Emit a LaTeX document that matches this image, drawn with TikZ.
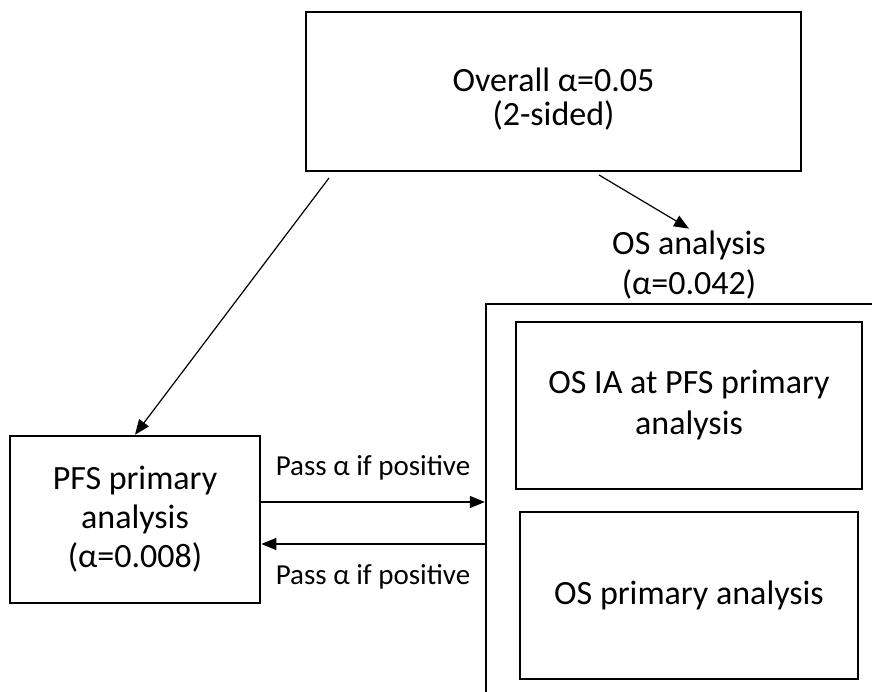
\documentclass[tikz,border=0pt]{standalone}
\usepackage{fontspec}
\setmainfont{Carlito}
\usetikzlibrary{arrows.meta}
\usetikzlibrary{calc}

\begin{document}
\begin{tikzpicture}[x=1pt, y=1pt]
        % ================= 样式定义 =================
        \tikzset{
            % 方框:白底黑粗边
            box/.style={draw=black, line width=2.6pt, fill=white, align=center, inner sep=0pt, font=\fontsize{34}{39}\selectfont},
            % 外框 (超出画面)
            bigbox/.style={draw=black, line width=2.4pt, inner sep=0pt},
            % 文字标签
            textlab/.style={align=center, inner sep=2pt, font=\fontsize{34}{40}\selectfont},
            % 箭头上的小字
            passlab/.style={inner sep=0pt, font=\fontsize{29}{34}\selectfont},
            % 箭头样式
            arr/.style={line width=1.2pt, black, -{Triangle[length=15pt, width=12pt]}}
        }
        \useasboundingbox (0,0) rectangle (872,692);

        % ================= 1. 绘制方框 =================

        % 顶部:总体 alpha (文字稍微偏下)
        \node[box, minimum width=495, minimum height=159] (overall) at (553.5,600.5) {};
        \node[textlab, font=\fontsize{34}{34}\selectfont] (overalltxt) at ([yshift=-8]overall.center) {Overall α=0.05\\(2-sided)};

        % 左边:PFS
        \node[box, minimum width=250, minimum height=167] (pfs) at (135,172.5) {PFS primary\\analysis\\(α=0.008)};

        % 右边:OS 大框,右下角在画面之外
        \node[bigbox, minimum width=404, minimum height=406] (osbox) at (688,185) {};

        % OS 大框里的两个小框
        \node[box, minimum width=346, minimum height=167, font=\fontsize{34}{41}\selectfont] (osia) at (689,286.5) {OS IA at PFS primary\\analysis};
        \node[box, minimum width=338, minimum height=167] (osprim) at (689,96.5) {OS primary analysis};

        % OS 标签
        \node[textlab] (oslab) at (689,427) {OS analysis\\(α=0.042)};

        % ================= 2. 绘制连线 =================

        % --- 从顶部框出发 ---
        \coordinate (s1) at (329,514);
        \coordinate (s2) at (599,517);
        \draw[arr] (s1) -- (pfs.north);
        \draw[arr] (s2) -- (oslab.north);

        % --- PFS 与 OS 之间来回传递 alpha ---
        \coordinate (p1) at ([yshift=17.5]pfs.east);
        \coordinate (p2) at ([yshift=-24.5]pfs.east);
        \draw[arr] (p1) -- (p1 -| osbox.west) node[passlab, midway, yshift=34] (pass1) {Pass α if positive};
        \draw[arr] (p2 -| osbox.west) -- (p2) node[passlab, midway, yshift=-33] (pass2) {Pass α if positive};

    \end{tikzpicture}
\end{document}
